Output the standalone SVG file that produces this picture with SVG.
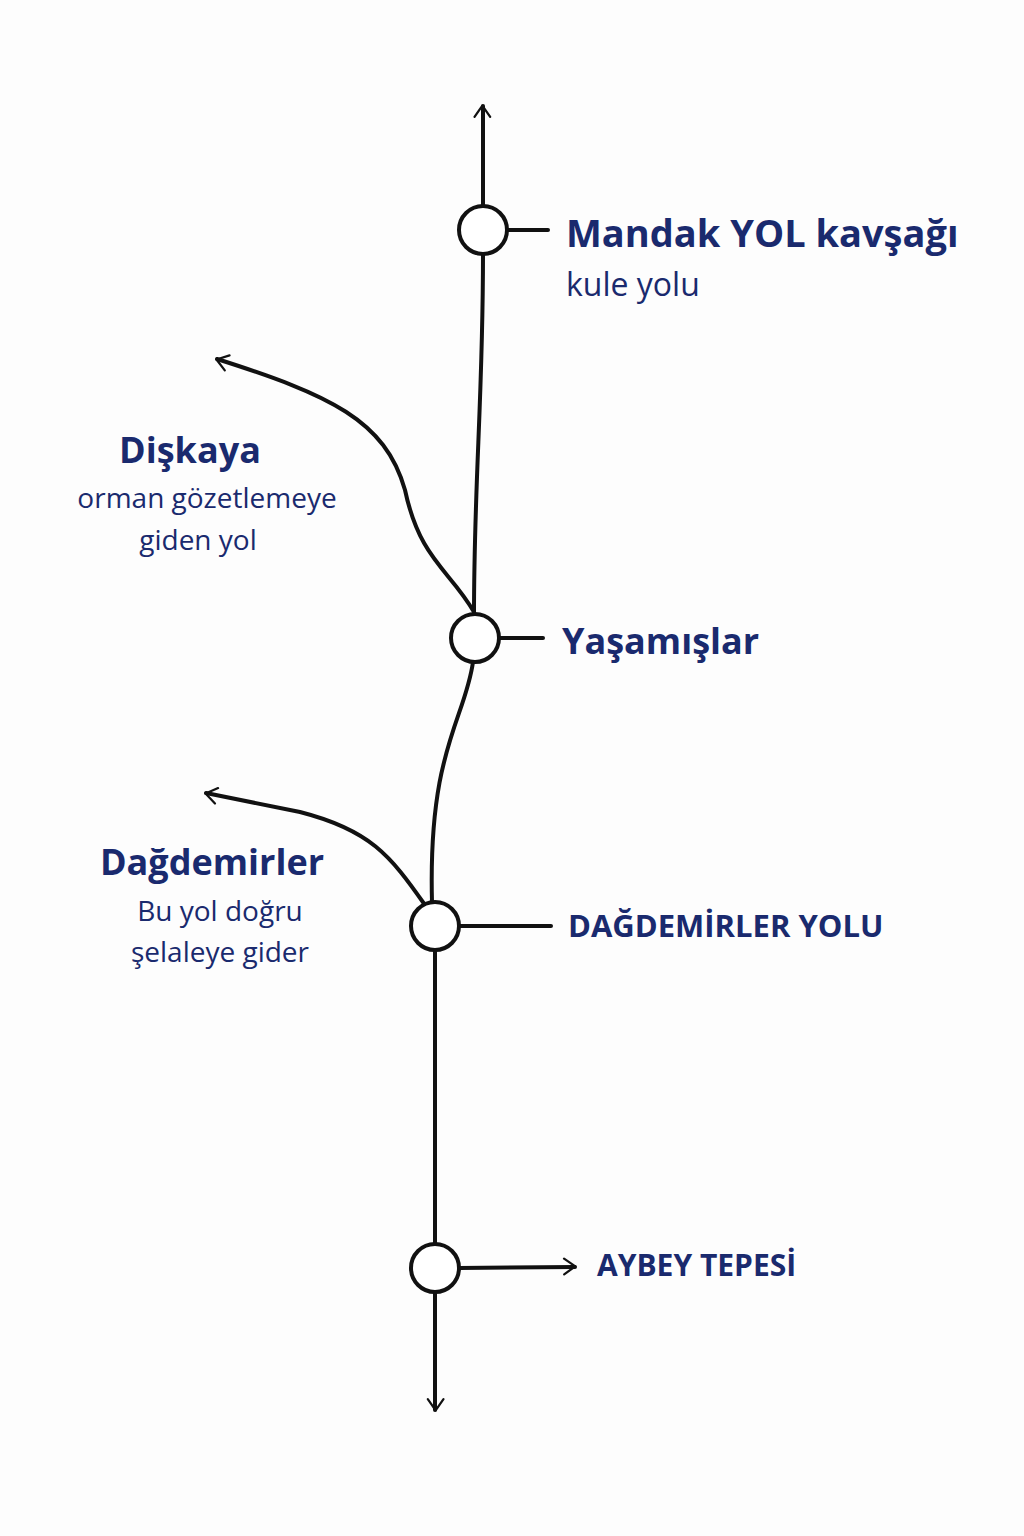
<svg xmlns="http://www.w3.org/2000/svg" width="1024" height="1536" viewBox="0 0 1024 1536">
<defs>
<style>
.l{fill:none;stroke:#111;stroke-width:4;stroke-linecap:round;stroke-linejoin:round}
.n{fill:#fff;stroke:#111;stroke-width:4}
.t{font-family:"Open Sans","Noto Sans",sans-serif;fill:#1a2a6e}
.b{font-weight:bold}
</style>
<marker id="a" viewBox="0 0 20 20" refX="16" refY="10" markerWidth="8" markerHeight="8" markerUnits="userSpaceOnUse" orient="auto" style="overflow:visible">
<path d="M-4,-4 L16,10 L-4,24" fill="none" stroke="#111" stroke-width="4" stroke-linecap="round" stroke-linejoin="round" transform="scale(1.4) translate(-4,-4)"/>
</marker>
</defs>
<rect width="1024" height="1536" fill="#fdfdfd"/>
<g id="connectors">
<path class="l" d="M483,206 L483,106" marker-end="url(#a)"/>
<path class="l" d="M483,254 C483,400 474,480 474,614"/>
<path class="l" d="M474,612 C450,570 420,560 405,490 C385,420 330,395 217,359" marker-end="url(#a)"/>
<path class="l" d="M473,662 C465,720 428,750 432,902"/>
<path class="l" d="M425,905 C390,855 370,830 300,812 L206,793" marker-end="url(#a)"/>
<path class="l" d="M435,950 L435,1244"/>
<path class="l" d="M435,1292 L435,1410" marker-end="url(#a)"/>
<path class="l" d="M507,230 L548,230"/>
<path class="l" d="M499,638 L543,638"/>
<path class="l" d="M459,926 L551,926"/>
<path class="l" d="M459,1268 L575,1267" marker-end="url(#a)"/>
</g>
<g id="n1"><circle class="n" cx="483" cy="230" r="24"/>
<text class="t b" x="566" y="247" font-size="38">Mandak YOL kavşağı</text>
<text class="t" x="566" y="296" font-size="32">kule yolu</text></g>
<g id="n2"><circle class="n" cx="475" cy="638" r="24"/>
<text class="t b" x="562" y="654" font-size="36">Yaşamışlar</text></g>
<g id="n3"><circle class="n" cx="435" cy="926" r="24"/>
<text class="t b" x="568" y="937" font-size="31">DAĞDEMİRLER YOLU</text></g>
<g id="n4"><circle class="n" cx="435" cy="1268" r="24"/>
<text class="t b" x="597" y="1276" font-size="30">AYBEY TEPESİ</text></g>
<g id="b1" text-anchor="middle">
<text class="t b" x="190" y="463" font-size="36">Dişkaya</text>
<text class="t" x="207" y="508" font-size="28">orman gözetlemeye</text>
<text class="t" x="198" y="550" font-size="28">giden yol</text></g>
<g id="b2" text-anchor="middle">
<text class="t b" x="212" y="875" font-size="36">Dağdemirler</text>
<text class="t" x="220" y="921" font-size="28">Bu yol doğru</text>
<text class="t" x="220" y="962" font-size="28">şelaleye gider</text></g>
</svg>
